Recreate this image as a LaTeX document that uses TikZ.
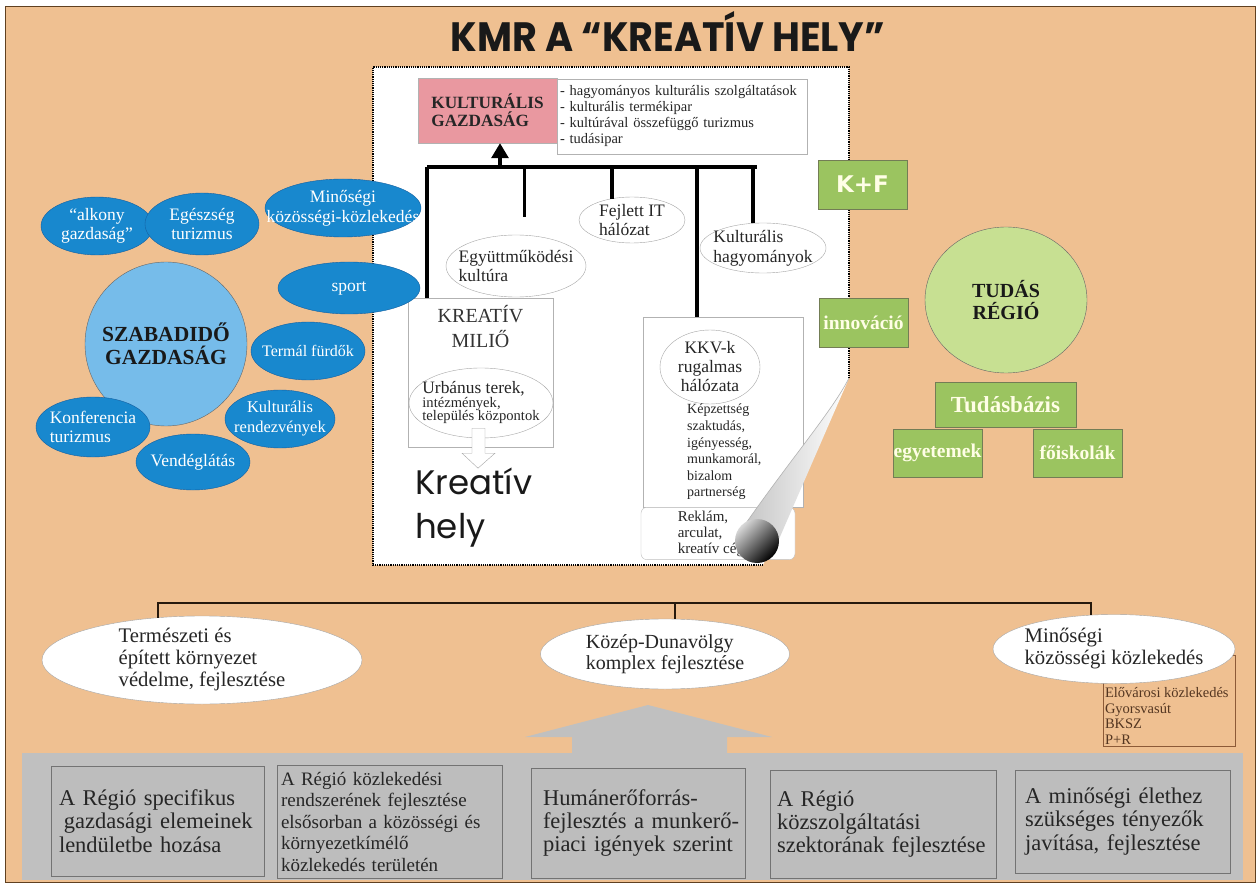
\documentclass[tikz,border=0pt]{standalone}
\usepackage{graphicx}
\usepackage{fontspec}
\setmainfont{Liberation Serif}
\newfontfamily\comicfont{Poppins}
\newfontfamily\kffont{DejaVu Sans}
\usetikzlibrary{shapes.geometric,arrows.meta}

\definecolor{bgorange}{RGB}{239,192,145}
\definecolor{ellblue}{RGB}{24,136,206}
\definecolor{blueline}{RGB}{20,95,160}
\definecolor{circblue}{RGB}{118,188,234}
\definecolor{kultpink}{RGB}{233,152,160}
\definecolor{boxgreen}{RGB}{155,196,96}
\definecolor{greenline}{RGB}{115,125,85}
\definecolor{circgreen}{RGB}{199,224,146}
\definecolor{bandgrey}{RGB}{192,192,192}
\definecolor{boxgrey}{RGB}{189,189,189}
\definecolor{listbrown}{RGB}{140,90,55}

\newcommand{\fsz}[2]{\fontsize{#1}{#2}\selectfont}

\tikzset{
  pageborder/.style={densely dotted, line width=1.2},
  bar/.style={line width=3.2, black},
  bus/.style={line width=1.8, black!80!brown},
  ell/.style={ellipse, draw=gray!70, fill=white, inner sep=-80pt, align=left, text=black!85, font=\fsz{17.5}{19}},
  blueell/.style={ellipse, draw=blueline, fill=ellblue, inner sep=-80pt, align=center, text=white, font=\fsz{17.5}{19}},
  whitebox/.style={rectangle, draw=gray!60, fill=white, inner sep=0pt},
  greenbox/.style={rectangle, draw=greenline, fill=boxgreen, inner sep=0pt, text=white!90!yellow, font=\bfseries\fsz{19.5}{21}},
  greybox/.style={rectangle, draw=gray!90!black, fill=boxgrey, inner xsep=8pt, inner ysep=0pt, align=left, text=black!85, font=\fsz{22.5}{23.3}},
}

\begin{document}
\begin{tikzpicture}[x=1pt,y=-1pt]
    \useasboundingbox (0,0) rectangle (1259,885);
    \fill[white] (0,0) rectangle (1259,885);
    \filldraw[fill=bgorange, draw=brown!50!black, line width=0.8] (5,6) rectangle (1255,882);

    \node[font=\comicfont\bfseries\fsz{41}{41}, text=black!90] (title) at (668,31) {\scalebox{0.93}[1]{KMR A “KREATÍV HELY”}};

    % the page
    \fill[white] (373,67) -- (849,67) -- (849,378) -- (763,565) -- (373,565) -- cycle;
    \draw[pageborder] (849,378) -- (849,67) -- (373,67) -- (373,565) -- (763,565);

    \node[rectangle, draw=gray!60, fill=kultpink, minimum width=139, minimum height=65, align=left, text=black!85, font=\bfseries\fsz{17.2}{18}] (kultgazd) at (487.5,110.5) {KULTURÁLIS\\GAZDASÁG};
    \node[whitebox, inner xsep=3pt, minimum width=250, minimum height=75, text width=244, align=left, text=black!85, font=\fsz{14.5}{16}] (kultlist) at (682,116.5) {- hagyományos kulturális szolgáltatások\\- kulturális termékipar\\- kultúrával összefüggő turizmus\\- tudásipar};

    \node[ell, minimum width=140, minimum height=62] (egyutt) at (516,266) {Együttműködési\\kultúra};
    \node[ell, minimum width=106, minimum height=46] (fejlett) at (632,220) {Fejlett IT\\hálózat};
    \node[ell, minimum width=126, minimum height=50, font=\fsz{17.5}{20}] (hagyom) at (763,248) {Kulturális\\hagyományok};

    \node[whitebox, minimum width=145, minimum height=149,
          label={[anchor=north, align=center, inner sep=0pt, yshift=-7pt, text=black!80, font=\fsz{20}{25}]north:{KREATÍV\\MILIŐ}}] (milieu) at (480.5,372.5) {};
    \node[ell, minimum width=144, minimum height=70, font=\fsz{14.6}{13.5}] (urban) at (481,403) {{\fsz{17.4}{13.5}Urbánus terek,}\\intézmények,\\település központok};
    \draw[draw=gray!70, fill=white] (urban.south) ++(-9,-10) -- ++(13,0) -- ++(0,25) -- ++(10,0) -- ++(-17,15) -- ++(-16,-15) -- ++(10,0) -- cycle;
    \node[anchor=north west, align=left, inner sep=0pt, text=black!90, font=\comicfont\fsz{34}{44}] (kreahely) at (415,468) {Kreatív\\hely};

    \node[whitebox, minimum width=160, minimum height=190] (kkvbox) at (723,412) {};
    \node[ell, minimum width=100, minimum height=74, align=center] (kkv) at (710,367) {KKV-k\\rugalmas\\hálózata};
    \node[anchor=north west, align=left, inner sep=0pt, text=black!85, font=\fsz{14}{16.6}] (kkvlist) at (687,404) {Képzettség\\szaktudás,\\igényesség,\\munkamorál,\\bizalom\\partnerség};
    \node[rectangle, rounded corners=6, draw=gray!50, fill=white, minimum width=154, minimum height=49, align=left, text=black!85, font=\fsz{15}{16}] (reklam) at (718,533.5) {Reklám,\\arculat,\\kreatív cégek};

    % curled corner
    \shade[left color=gray!45, right color=white] (849,378) -- (776,546) -- (744,526) .. controls (790,460) and (833,410) .. (849,378) -- cycle;
    \draw[gray!60, line width=0.6] (744,526) .. controls (790,460) and (833,410) .. (849,378);
    \shade[left color=gray!30, right color=black, shading angle=45] (757,541) circle (22);

    \coordinate (barL) at (427,167);
    \coordinate (barR) at (757,167);
    \coordinate (barA) at (500,167);
    \coordinate (barK) at (697,167);
    \draw[bar] (barL) -- (barR);
    \draw[bar, -{Triangle[width=17pt,length=15pt]}] (barA) -- (barA |- kultgazd.south);
    \draw[bar] (barL) -- (barL |- milieu.north);
    \draw[bar, shorten >=18pt] (egyutt.75 |- barL) -- (egyutt.75);
    \draw[bar] (fejlett.133 |- barL) -- (fejlett.133);
    \draw[bar] (barK) -- (barK |- kkvbox.north);
    \draw[bar] (hagyom.112 |- barL) -- (hagyom.112);

    % szabadido
    \node[blueell, minimum width=112, minimum height=58] (alkony) at (97,226) {“alkony\\gazdaság”};
    \node[blueell, minimum width=114, minimum height=62] (egeszseg) at (202,224) {Egészség\\turizmus};
    \node[blueell, minimum width=156, minimum height=58, font=\fsz{17.5}{20}] (minkoz) at (343,208) {Minőségi\\közösségi-közlekedés};
    \node[blueell, minimum width=142, minimum height=52] (sport) at (349,288) {sport};
    \node[ellipse, draw=black!60, fill=circblue, inner sep=-80pt, minimum width=162, minimum height=164, align=center, text=black!90, font=\bfseries\fsz{21.5}{23}] (szabad) at (166,344) {SZABADIDŐ\\GAZDASÁG};
    \node[blueell, minimum width=114, minimum height=58, font=\fsz{16}{18}] (termal) at (308,351) {Termál fürdők};
    \node[blueell, minimum width=110, minimum height=58, font=\fsz{16.5}{20}] (kultrend) at (280,419) {Kulturális\\rendezvények};
    \node[blueell, minimum width=114, minimum height=60, align=left] (konf) at (93,427) {Konferencia\\turizmus};
    \node[blueell, minimum width=114, minimum height=56] (vendeg) at (193,462) {Vendéglátás};

    % tudas
    \node[greenbox, minimum width=89, minimum height=49, font=\kffont\bfseries\fsz{23}{23}] (kf) at (862.5,184.5) {K+F};
    \node[greenbox, minimum width=89, minimum height=49] (innov) at (863.5,322.5) {innováció};
    \node[ellipse, draw=black!60, fill=circgreen, inner sep=-80pt, minimum width=162, minimum height=146, align=center, text=black!90, font=\bfseries\fsz{20}{22}] (tudasreg) at (1006,300) {TUDÁS\\RÉGIÓ};
    \node[greenbox, minimum width=141, minimum height=45, font=\bfseries\fsz{23}{23}] (tudasbaz) at (1005.5,404.5) {Tudásbázis};
    \node[greenbox, minimum width=89, minimum height=48] (egyetem) at (937.5,453) {egyetemek};
    \node[greenbox, minimum width=89, minimum height=48] (foisk) at (1077.5,453) {főiskolák};

    % bottom
    \node[ell, minimum width=320, minimum height=88, font=\fsz{20.7}{22}] (termesz) at (202,660) {Természeti és\\épített környezet\\védelme, fejlesztése};
    \node[ell, minimum width=249, minimum height=70, font=\fsz{20}{21}] (kozep) at (665,654) {Közép-Dunavölgy\\komplex fejlesztése};
    \node[rectangle, draw=listbrown, minimum width=132, minimum height=91,
          label={[anchor=south west, align=left, inner sep=2pt, text=listbrown!60!black, font=\fsz{14.5}{15.5}]south west:{Elővárosi közlekedés\\Gyorsvasút\\BKSZ\\P+R}}] (minlist) at (1169,700.5) {};
    \node[ell, minimum width=242, minimum height=69, font=\fsz{20.7}{22}] (minoseg) at (1114,649) {Minőségi\\közösségi közlekedés};

    \coordinate (busy) at (0,603);
    \draw[bus] (termesz.136) -- (termesz.136 |- busy) -| (minoseg.124);
    \draw[bus] (kozep.74) -- (kozep.74 |- busy);

    \fill[bandgrey] (22,753) rectangle (1243,880);
    \fill[bandgrey] (572,753) -- (572,737) -- (525,737) -- (648,705) -- (772,737) -- (727,737) -- (727,753) -- cycle;

    \node[greybox, minimum width=213, minimum height=110, text width=197] (prog1) at (157.5,821) {A Régió specifikus\\\hspace*{5pt}gazdasági elemeinek\\lendületbe hozása};
    \node[greybox, inner xsep=4pt, minimum width=225, minimum height=113, text width=217, font=\fsz{19}{21.5}] (prog2) at (389.5,821.5) {A Régió közlekedési\\rendszerének fejlesztése\\elsősorban a közösségi és\\környezetkímélő\\közlekedés területén};
    \node[greybox, inner xsep=12pt, minimum width=214, minimum height=110, text width=190] (prog3) at (638,823) {Humánerőforrás-\\\mbox{fejlesztés a munkerő-}\\piaci igények szerint};
    \node[greybox, inner xsep=7pt, minimum width=226, minimum height=108, text width=212] (prog4) at (883,824) {A Régió\\közszolgáltatási\\szektorának fejlesztése};
    \node[greybox, inner xsep=10pt, minimum width=215, minimum height=103, text width=195] (prog5) at (1122.5,821.5) {A minőségi élethez\\szükséges tényezők\\javítása, fejlesztése};
\end{tikzpicture}
\end{document}
